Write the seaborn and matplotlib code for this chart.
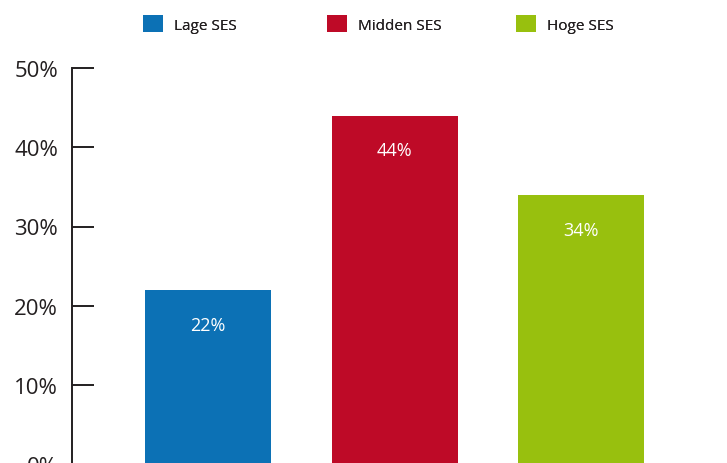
import matplotlib
matplotlib.use("Agg")
import matplotlib.pyplot as plt
from matplotlib.patches import Patch
import seaborn as sns
import pandas as pd

# Share per socio-economic status group (percent)
categories = ["Lage SES", "Midden SES", "Hoge SES"]
values = [22, 44, 34]
value_labels = ["22%", "44%", "34%"]
colors = ["#0C71B5", "#BE0A27", "#98C00E"]
y_ticks = [0, 10, 20, 30, 40, 50]
y_tick_labels = ["0%", "10%", "20%", "30%", "40%", "50%"]

sns.set_theme(style="white")
plt.rcParams["font.family"] = ["Open Sans", "DejaVu Sans"]

text_color = "#231F20"

fig = plt.figure(figsize=(7.27, 4.64), dpi=100)
ax = fig.add_axes([72 / 727, -1.25 / 464, (727 - 72) / 727, (465.25 - 69) / 464])

df = pd.DataFrame({"groep": categories, "aandeel": values})
sns.barplot(data=df, x="groep", y="aandeel", hue="groep", palette=colors,
            order=categories, hue_order=categories, dodge=False,
            width=0.675, legend=False, ax=ax, saturation=1, linewidth=0)

ax.set_xlim(-0.728, 2.78)
ax.set_ylim(0, 50)
ax.set_xlabel("")
ax.set_ylabel("")
ax.set_xticks([])
ax.set_yticks(y_ticks)
ax.set_yticklabels(y_tick_labels)

for side in ["top", "right", "bottom"]:
    ax.spines[side].set_visible(False)
ax.spines["left"].set_color(text_color)
ax.spines["left"].set_linewidth(1.4)
ax.tick_params(axis="y", direction="in", length=16, width=1.4, color=text_color,
               pad=10, labelsize=16, labelcolor=text_color, left=True)

# Value labels inside the bars
for patch, lbl in zip(ax.patches, value_labels):
    x = patch.get_x() + patch.get_width() / 2
    y = patch.get_height()
    ax.annotate(lbl, xy=(x, y), xytext=(0, -25), textcoords="offset points",
                ha="center", va="center", color="white", fontsize=13)

# Legend entries, one per group, spread across the top
legend_x = [143, 327, 516]
for c, l, px in zip(colors, categories, legend_x):
    leg = fig.legend(handles=[Patch(facecolor=c, edgecolor="none", label=l)],
                     loc="center left", bbox_to_anchor=(px / 727, 1 - 25 / 464),
                     frameon=False, fontsize=11, handlelength=1.3, handleheight=1.3,
                     handletextpad=0.72, borderpad=0, borderaxespad=0,
                     labelcolor=text_color)
    fig.add_artist(leg)

fig.savefig("out.png", dpi=100)
